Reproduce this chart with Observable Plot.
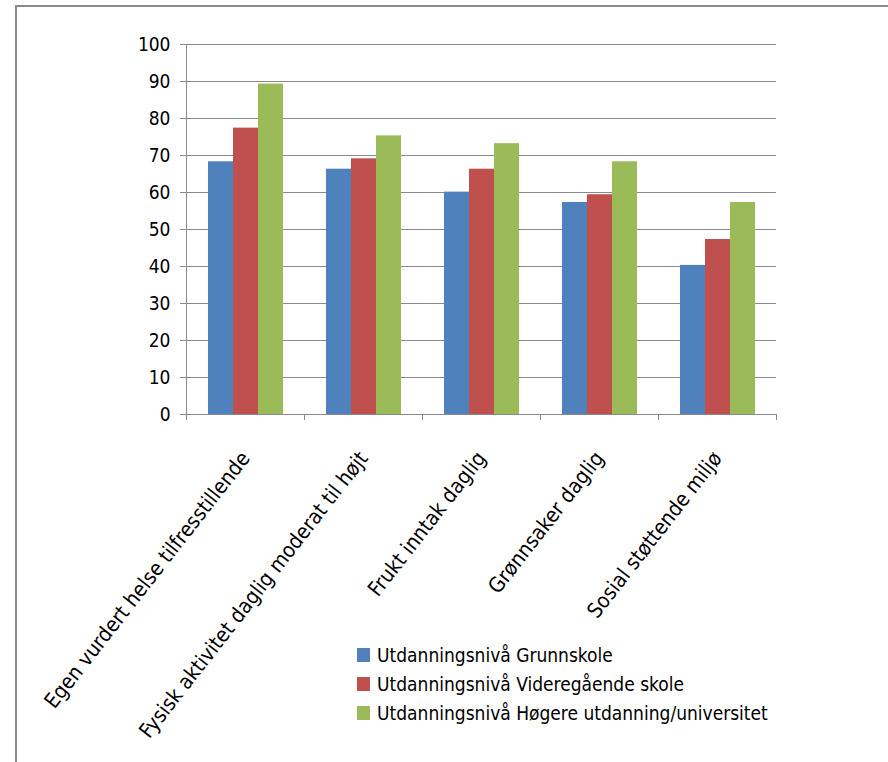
<!DOCTYPE html>
<html>
<head>
<meta charset="utf-8">
<script src="https://cdn.jsdelivr.net/npm/d3@7"></script>
<script src="https://cdn.jsdelivr.net/npm/@observablehq/plot@0.6"></script>
<style>
  html, body { margin: 0; padding: 0; background: #fff; }
  #wrap { position: relative; width: 888px; height: 762px; overflow: hidden; }
  #border { position: absolute; left: 15px; top: 5px; right: -10px; bottom: -10px;
            border-left: 2px solid #8a8a8a; border-top: 2px solid #8a8a8a; }
  #legend { position: absolute; left: 357px; top: 640px;
            font-family: "Liberation Sans Narrow", "DejaVu Sans Condensed", sans-serif;
            font-size: 19px; color: #000; }
  #legend .row { display: flex; align-items: center; height: 29px; }
  #legend .sw { width: 13px; height: 14px; margin-right: 7px; }
</style>
</head>
<body>
<div id="wrap">
  <div id="border"></div>
  <div id="chart"></div>
  <div id="legend"></div>
</div>
<script>
const categories = [
  "Egen vurdert helse tilfresstillende",
  "Fysisk aktivitet daglig moderat til højt",
  "Frukt inntak daglig",
  "Grønnsaker daglig",
  "Sosial støttende miljø"
];
const series = [
  "Utdanningsnivå Grunnskole",
  "Utdanningsnivå Videregående skole",
  "Utdanningsnivå Høgere utdanning/universitet"
];
const grunnskole    = [68.3, 66.3, 60.1, 57.3, 40.3];
const videregaaende = [77.4, 69.1, 66.3, 59.4, 47.3];
const hoegere       = [89.3, 75.3, 73.2, 68.3, 57.3];
const yTicks = [0, 10, 20, 30, 40, 50, 60, 70, 80, 90, 100];
const colors = ["#4F81BD", "#C0504D", "#9BBB59"];

const seriesValues = [grunnskole, videregaaende, hoegere];
const data = [];
categories.forEach((c, i) => {
  series.forEach((s, j) => data.push({category: c, series: s, value: seriesValues[j][i]}));
});

const font = '"Liberation Sans Narrow", "DejaVu Sans Condensed", sans-serif';
const gray = "#8a8a8a";

const chart = Plot.plot({
  width: 888,
  height: 762,
  marginLeft: 186,
  marginRight: 112,
  marginTop: 44,
  marginBottom: 348,
  style: {fontFamily: font, fontSize: "19px", background: "transparent", color: "#000"},
  fx: {domain: categories, padding: 0},
  x: {domain: series, paddingInner: 0, paddingOuter: 0.77, axis: null},
  y: {domain: [0, 100]},
  color: {domain: series, range: colors},
  marks: [
    Plot.gridY(yTicks, {stroke: gray, strokeOpacity: 1, strokeWidth: 1}),
    Plot.barY(data, {fx: "category", x: "series", y: "value", fill: "series"}),
    Plot.ruleY([0], {stroke: gray, strokeWidth: 1}),
    Plot.axisY({ticks: yTicks, tickSize: 6, tickPadding: 10, label: null, stroke: gray, fontSize: 19}),
    Plot.axisFx({anchor: "bottom", tickSize: 0, tickPadding: 40, tickRotate: -52, label: null, fontSize: 21})
  ]
});
document.getElementById("chart").appendChild(chart);

// y-axis line and category boundary ticks, positioned via Plot's scales
const fx = chart.scale("fx");
const y = chart.scale("y");
const svg = d3.select(chart);
const g = svg.append("g").attr("stroke", gray).attr("stroke-width", 1);
const y0 = y.apply(0), y100 = y.apply(100);
const firstX = fx.apply(categories[0]);
g.append("line").attr("x1", firstX + 0.5).attr("x2", firstX + 0.5).attr("y1", y100).attr("y2", y0);
const edges = categories.map(c => fx.apply(c));
edges.push(fx.apply(categories[categories.length - 1]) + fx.bandwidth);
edges.forEach(x => {
  g.append("line").attr("x1", x + 0.5).attr("x2", x + 0.5).attr("y1", y0).attr("y2", y0 + 6);
});

// legend
const legend = d3.select("#legend");
series.forEach((s, i) => {
  const row = legend.append("div").attr("class", "row");
  row.append("div").attr("class", "sw").style("background", colors[i]);
  row.append("span").text(s);
});
</script>
</body>
</html>
